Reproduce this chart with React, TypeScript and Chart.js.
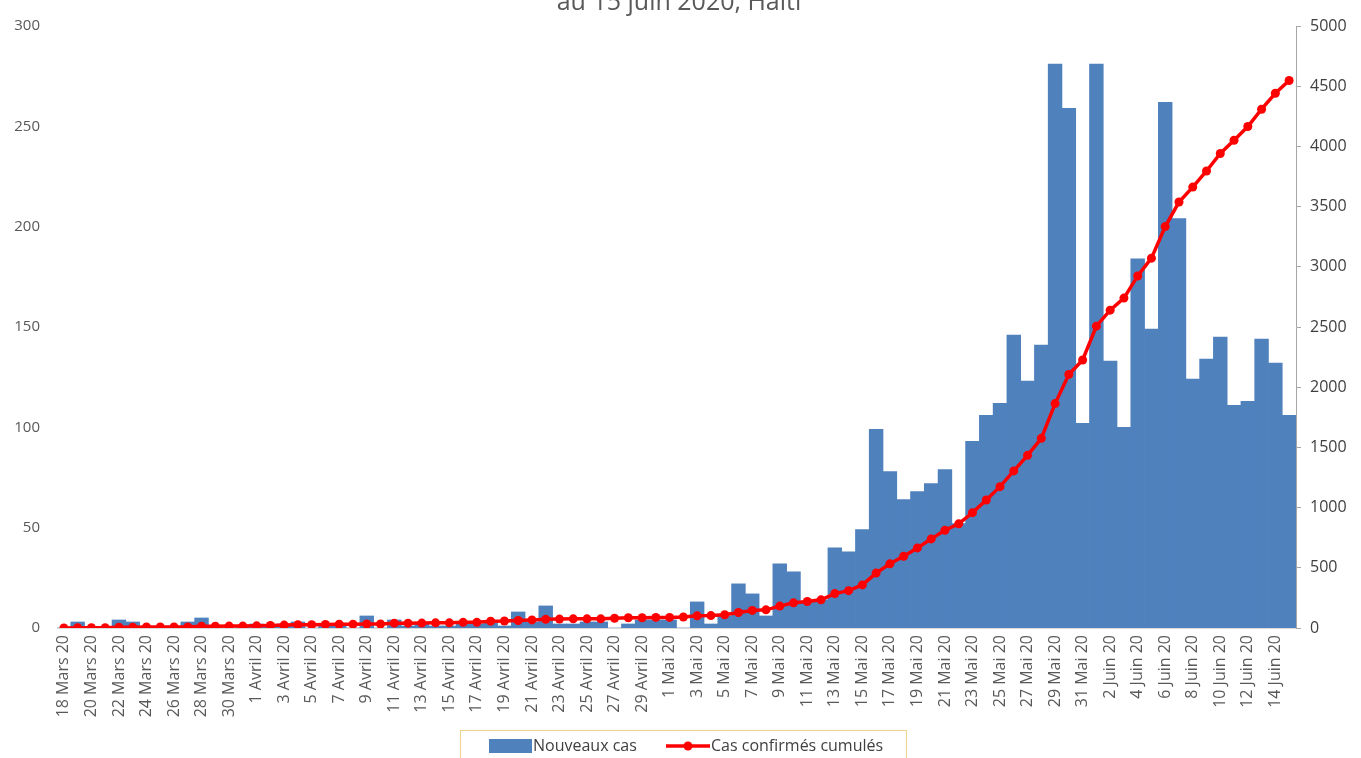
import React, { useEffect, useRef } from "react";
import { Chart, registerables } from "chart.js";

Chart.register(...registerables);

const dateLabels = [
  "18 Mars 20", "19 Mars 20", "20 Mars 20", "21 Mars 20", "22 Mars 20", "23 Mars 20", "24 Mars 20", "25 Mars 20",
  "26 Mars 20", "27 Mars 20", "28 Mars 20", "29 Mars 20", "30 Mars 20", "31 Mars 20",
  "1 Avril 20", "2 Avril 20", "3 Avril 20", "4 Avril 20", "5 Avril 20", "6 Avril 20", "7 Avril 20", "8 Avril 20",
  "9 Avril 20", "10 Avril 20", "11 Avril 20", "12 Avril 20", "13 Avril 20", "14 Avril 20", "15 Avril 20",
  "16 Avril 20", "17 Avril 20", "18 Avril 20", "19 Avril 20", "20 Avril 20", "21 Avril 20", "22 Avril 20",
  "23 Avril 20", "24 Avril 20", "25 Avril 20", "26 Avril 20", "27 Avril 20", "28 Avril 20", "29 Avril 20", "30 Avril 20",
  "1 Mai 20", "2 Mai 20", "3 Mai 20", "4 Mai 20", "5 Mai 20", "6 Mai 20", "7 Mai 20", "8 Mai 20", "9 Mai 20",
  "10 Mai 20", "11 Mai 20", "12 Mai 20", "13 Mai 20", "14 Mai 20", "15 Mai 20", "16 Mai 20", "17 Mai 20",
  "18 Mai 20", "19 Mai 20", "20 Mai 20", "21 Mai 20", "22 Mai 20", "23 Mai 20", "24 Mai 20", "25 Mai 20",
  "26 Mai 20", "27 Mai 20", "28 Mai 20", "29 Mai 20", "30 Mai 20", "31 Mai 20",
  "1 Juin 20", "2 Juin 20", "3 Juin 20", "4 Juin 20", "5 Juin 20", "6 Juin 20", "7 Juin 20", "8 Juin 20",
  "9 Juin 20", "10 Juin 20", "11 Juin 20", "12 Juin 20", "13 Juin 20", "14 Juin 20", "15 Juin 20",
];

const newCases = [
  0, 3, 0, 0, 4, 3, 0, 0, 0, 3, 5, 0, 0, 1,
  2, 1, 2, 3, 0, 2, 1, 0, 6, 0, 4, 1, 2, 1, 1, 2, 2, 3, 1, 8, 3, 11, 2, 2, 3, 3, 0, 2, 4, 4,
  4, 0, 13, 2, 6, 22, 17, 6, 32, 28, 13, 14, 40, 38, 49, 99, 78, 64, 68, 72, 79, 52, 93, 106, 112,
  146, 123, 141, 281, 259, 102,
  281, 133, 100, 184, 149, 262, 204, 124, 134, 145, 111, 113, 144, 132, 106,
];

const cumulativeCases = [
  0, 2, 2, 2, 6, 7, 8, 8, 8, 8, 15, 15, 16, 16,
  18, 21, 24, 27, 27, 30, 31, 31, 33, 33, 40, 40, 41, 43, 43, 47, 47, 57, 58, 62, 67, 72, 74, 76, 76, 76, 81, 85, 85, 88,
  88, 91, 101, 103, 110, 129, 146, 151, 182, 209, 220, 234, 286, 310, 358, 456, 533, 596, 665, 740, 812, 865, 958, 1063, 1174,
  1305, 1434, 1575, 1864, 2106, 2226,
  2507, 2640, 2740, 2924, 3072, 3334, 3538, 3662, 3796, 3941, 4051, 4165, 4309, 4441, 4547,
];

const titleText = "au 15 juin 2020, Haïti";
const barLabel = "Nouveaux cas";
const lineLabel = "Cas confirmés cumulés";

const FONT = "'Open Sans', sans-serif";

const overlayPlugin = {
  id: "overlay",
  afterDraw(chart: any) {
    const ctx = chart.ctx as CanvasRenderingContext2D;
    ctx.save();
    // Title (cut off at the top)
    ctx.font = `25px ${FONT}`;
    ctx.fillStyle = "#595959";
    ctx.textAlign = "center";
    ctx.textBaseline = "alphabetic";
    ctx.fillText(titleText, 679, 10);

    // Legend box
    ctx.strokeStyle = "#f0d48a";
    ctx.lineWidth = 1;
    ctx.strokeRect(460.5, 730.5, 446, 40);

    // Bar legend item
    ctx.fillStyle = "#4f81bd";
    ctx.fillRect(489, 739, 43, 14);
    ctx.font = `16px ${FONT}`;
    ctx.fillStyle = "#404040";
    ctx.textAlign = "left";
    ctx.textBaseline = "middle";
    ctx.fillText(barLabel, 533, 746);

    // Line legend item
    ctx.strokeStyle = "#ff0000";
    ctx.lineWidth = 3.5;
    ctx.beginPath();
    ctx.moveTo(666, 746);
    ctx.lineTo(710, 746);
    ctx.stroke();
    ctx.fillStyle = "#ff0000";
    ctx.beginPath();
    ctx.arc(688, 746, 4.5, 0, Math.PI * 2);
    ctx.fill();
    ctx.fillStyle = "#404040";
    ctx.fillText(lineLabel, 711, 746);
    ctx.restore();
  },
};

export default function App() {
  const ref = useRef<HTMLCanvasElement>(null);

  useEffect(() => {
    document.body.style.margin = "0";
    const canvas = ref.current;
    if (!canvas) return;
    const chart = new Chart(canvas, {
      type: "bar",
      data: {
        labels: dateLabels,
        datasets: [
          {
            type: "line",
            label: lineLabel,
            data: cumulativeCases,
            yAxisID: "y2",
            borderColor: "#ff0000",
            backgroundColor: "#ff0000",
            borderWidth: 3.5,
            pointRadius: 4.5,
            pointBackgroundColor: "#ff0000",
            pointBorderColor: "#ff0000",
            pointBorderWidth: 0,
            tension: 0,
            order: 0,
          } as any,
          {
            type: "bar",
            label: barLabel,
            data: newCases,
            yAxisID: "y",
            backgroundColor: "#4f81bd",
            categoryPercentage: 1,
            barPercentage: 1,
            order: 1,
          } as any,
        ],
      },
      options: {
        responsive: false,
        animation: false,
        layout: { padding: { top: 22, left: 0, right: 0, bottom: 0 } },
        plugins: {
          legend: { display: false },
          tooltip: { enabled: false },
        },
        scales: {
          x: {
            offset: true,
            grid: { display: false, drawTicks: false },
            border: { display: true, color: "#d9d9d9" },
            ticks: {
              autoSkip: false,
              maxRotation: 90,
              minRotation: 90,
              padding: 7,
              color: "#595959",
              font: { family: FONT, size: 16 },
              callback: (_v: any, i: number) => (i % 2 === 0 ? dateLabels[i] : ""),
            },
            afterFit: (s: any) => {
              s.height = 130;
            },
          },
          y: {
            position: "left",
            min: 0,
            max: 300,
            ticks: { stepSize: 50, padding: 17, color: "#595959", font: { family: FONT, size: 15 } },
            grid: { display: false, drawTicks: false },
            border: { display: false },
            afterFit: (s: any) => {
              s.width = 57;
            },
          },
          y2: {
            position: "right",
            min: 0,
            max: 5000,
            ticks: {
              stepSize: 500,
              padding: 9,
              color: "#404040",
              font: { family: FONT, size: 16 },
              callback: (v: any) => String(v),
            },
            grid: { display: true, drawOnChartArea: false, drawTicks: true, tickLength: 5, color: "#a6a6a6" },
            border: { display: true, color: "#a6a6a6" },
            afterFit: (s: any) => {
              s.width = 65;
            },
          },
        },
      } as any,
      plugins: [overlayPlugin],
    });
    return () => chart.destroy();
  }, []);

  return (
    <div style={{ position: "absolute", left: 0, top: 0, width: 1361, height: 758, background: "#fff" }}>
      <canvas ref={ref} width={1361} height={758} style={{ display: "block" }} />
    </div>
  );
}
